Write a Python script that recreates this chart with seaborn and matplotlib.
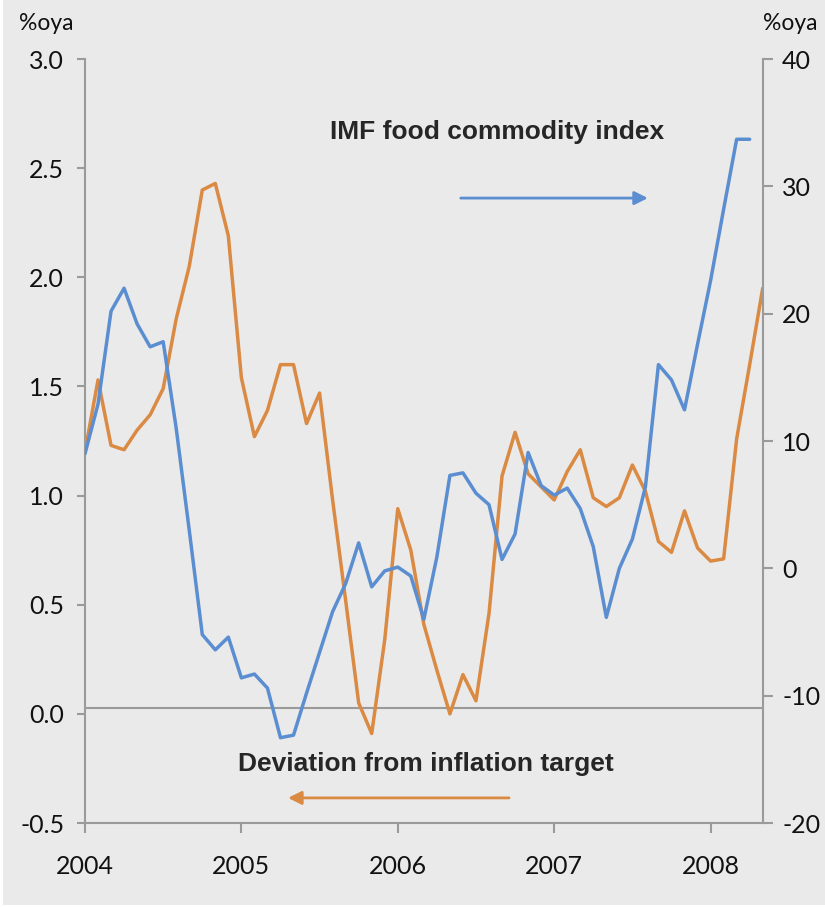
import numpy as np
import pandas as pd
import matplotlib
matplotlib.use("Agg")
import matplotlib.pyplot as plt
import seaborn as sns
from matplotlib.patches import Rectangle

# ---- data (monthly, Jan 2004 onward) ----
food_index = [9.0, 12.9, 20.2, 22.0, 19.2, 17.4, 17.8, 11.0, 3.0, -5.2,
              -6.4, -5.4, -8.6, -8.3, -9.4, -13.3, -13.1, -9.8, -6.6, -3.4,
              -1.2, 2.0, -1.45, -0.2, 0.1, -0.6, -4.0, 0.9, 7.3, 7.5,
              5.9, 5.0, 0.7, 2.7, 9.1, 6.5, 5.75, 6.3, 4.7, 1.7,
              -3.85, 0.0, 2.3, 6.4, 16.0, 14.8, 12.45, 17.6, 22.6, 28.2,
              33.7, 33.7]
inflation_dev = [1.20, 1.53, 1.23, 1.21, 1.30, 1.37, 1.49, 1.81, 2.05, 2.40,
                 2.43, 2.19, 1.54, 1.27, 1.39, 1.60, 1.60, 1.33, 1.47, 0.98,
                 0.52, 0.05, -0.09, 0.34, 0.94, 0.75, 0.41, 0.20, 0.00, 0.18,
                 0.06, 0.46, 1.09, 1.29, 1.10, 1.04, 0.98, 1.11, 1.21, 0.99,
                 0.95, 0.99, 1.14, 1.02, 0.79, 0.74, 0.93, 0.76, 0.70, 0.71,
                 1.26, 1.60, 1.95]
year_labels = ["2004", "2005", "2006", "2007", "2008"]
left_ticks = [-0.5, 0.0, 0.5, 1.0, 1.5, 2.0, 2.5, 3.0]
right_ticks = [-20, -10, 0, 10, 20, 30, 40]

df_food = pd.DataFrame({"month": np.arange(len(food_index)), "value": food_index})
df_infl = pd.DataFrame({"month": np.arange(len(inflation_dev)), "value": inflation_dev})

sns.set_style("white")
plt.rcParams["font.family"] = ["Lato", "DejaVu Sans"]

BG = "#EAEAEA"
GRAY = "#9A9A9A"
BLUE = "#5B8ED1"
ORANGE = "#DA8A43"
TXT = "#111111"

fig = plt.figure(figsize=(8.25, 9.07), dpi=100, facecolor="white")
fig.patches.append(Rectangle((3 / 825, 2 / 907), 1, 1, transform=fig.transFigure,
                             facecolor=BG, edgecolor="none", zorder=-10))

ax = fig.add_axes([0.1030, 0.0926, 0.8215, 0.8423])
ax.set_facecolor("none")
ax2 = ax.twinx()

ax.axhline(0.025, color=GRAY, lw=1.5, zorder=1)

sns.lineplot(data=df_infl, x="month", y="value", ax=ax, color=ORANGE, linewidth=2.5)
sns.lineplot(data=df_food, x="month", y="value", ax=ax2, color=BLUE, linewidth=2.5)

ax.set_xlim(0, 52)
ax.set_ylim(-0.5, 3.0)
ax2.set_ylim(-20, 40)

ax.set_xticks([12 * i for i in range(len(year_labels))])
ax.set_xticklabels(year_labels)
ax.set_yticks(left_ticks)
ax.set_yticklabels([f"{v:.1f}" for v in left_ticks])
ax2.set_yticks(right_ticks)
ax2.set_yticklabels([str(v) for v in right_ticks])

ax.set_xlabel("")
ax.set_ylabel("")
ax2.set_ylabel("")

for s in ["top", "right"]:
    ax.spines[s].set_visible(False)
for s in ["top", "left", "bottom"]:
    ax2.spines[s].set_visible(False)
for s in ["left", "bottom"]:
    ax.spines[s].set_color(GRAY)
    ax.spines[s].set_linewidth(1.5)
ax2.spines["right"].set_color(GRAY)
ax2.spines["right"].set_linewidth(1.5)

ax.tick_params(axis="y", direction="out", length=6, width=1.5, color=GRAY,
               labelsize=18, pad=9, left=True, labelcolor=TXT)
ax.tick_params(axis="x", direction="out", length=7, width=1.5, color=GRAY,
               labelsize=18, pad=16, bottom=True, labelcolor=TXT)
ax2.tick_params(axis="y", direction="out", length=7, width=1.5, color=GRAY,
                labelsize=18, pad=7, right=True, labelcolor=TXT)

fig.text(19 / 825, 1 - 23 / 907, "%oya", ha="left", va="center", fontsize=16.5, color=TXT)
fig.text(763 / 825, 1 - 23 / 907, "%oya", ha="left", va="center", fontsize=16.5, color=TXT)

ax.text(31.6, 2.666, "IMF food commodity index", ha="center", va="center",
        fontsize=19, fontweight="bold", family=["Liberation Sans", "DejaVu Sans"])
ax.text(26.17, -0.23, "Deviation from inflation target", ha="center", va="center",
        fontsize=19, fontweight="bold", family=["Liberation Sans", "DejaVu Sans"])

ax.annotate("", xy=(43.19, 2.363), xytext=(28.83, 2.363),
            arrowprops=dict(arrowstyle="-|>", color=BLUE, lw=2, mutation_scale=20,
                            shrinkA=0, shrinkB=0))
ax.annotate("", xy=(15.58, -0.385), xytext=(32.54, -0.385),
            arrowprops=dict(arrowstyle="-|>", color=ORANGE, lw=2, mutation_scale=20,
                            shrinkA=0, shrinkB=0))

fig.savefig("out.png", dpi=100, facecolor=fig.get_facecolor())
